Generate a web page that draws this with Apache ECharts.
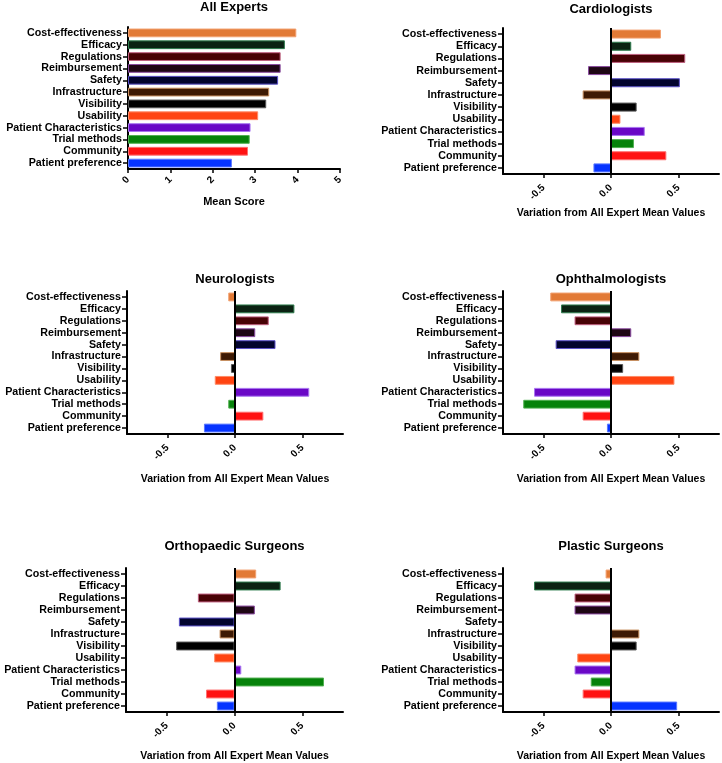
<!DOCTYPE html>
<html><head><meta charset="utf-8">
<script src="https://cdn.jsdelivr.net/npm/echarts@6/dist/echarts.min.js"></script>
<style>html,body{margin:0;padding:0;background:#fff}#c{width:722px;height:763px}</style>
</head><body><div id="c"></div>
<script>
const categories = ['Cost-effectiveness','Efficacy','Regulations','Reimbursement','Safety','Infrastructure','Visibility','Usability','Patient Characteristics','Trial methods','Community','Patient preference'];
const allExperts = [3.97,3.70,3.60,3.60,3.54,3.33,3.26,3.07,2.89,2.87,2.83,2.45];
const cardiologists = [0.37,0.15,0.55,-0.17,0.51,-0.21,0.19,0.07,0.25,0.17,0.41,-0.13];
const neurologists = [-0.05,0.44,0.25,0.15,0.30,-0.11,-0.03,-0.15,0.55,-0.05,0.21,-0.23];
const ophthalmologists = [-0.45,-0.37,-0.27,0.15,-0.41,0.21,0.09,0.47,-0.57,-0.65,-0.21,-0.03];
const orthopaedicSurgeons = [0.16,0.34,-0.27,0.15,-0.41,-0.11,-0.43,-0.15,0.05,0.66,-0.21,-0.13];
const plasticSurgeons = [-0.04,-0.57,-0.27,-0.27,0,0.21,0.19,-0.25,-0.27,-0.15,-0.21,0.49];
const meanScoreTicks = [0,1,2,3,4,5];
const variationTicks = [-0.5,0,0.5];
const panelTitles = ['All Experts','Cardiologists','Neurologists','Ophthalmologists','Orthopaedic Surgeons','Plastic Surgeons'];
const meanAxisName = 'Mean Score';
const variationAxisName = 'Variation from All Expert Mean Values';

const barColors = ['#E27A36','#0B2212','#480205','#1E0614','#02042E','#3E1A04','#000000','#FF4412','#6A08C6','#06820A','#FF1212','#0634FF'];
const barBorders = ['#F2A070','#2E7D4E','#C06080','#8A4AA0','#5A50C8','#C89060','#555555','#FF8A66','#A874F0','#50B050','#FF7070','#5A78FF'];

const FONT = '"Liberation Sans", Arial, Helvetica, sans-serif';
const layouts = [
  {left:128, top:27, width:212, height:142, titleTop:1, gap:27, lm:9},
  {left:503, top:28, width:216, height:146, titleTop:3, gap:34, lm:12},
  {left:127, top:291, width:216, height:143, titleTop:273, gap:40, lm:12},
  {left:503, top:291, width:216, height:143, titleTop:273, gap:40, lm:12},
  {left:126, top:568, width:217, height:144, titleTop:540, gap:39, lm:12},
  {left:503, top:568, width:216, height:144, titleTop:540, gap:39, lm:12}
];
const panelData = [allExperts, cardiologists, neurologists, ophthalmologists, orthopaedicSurgeons, plasticSurgeons];

const grid = [], xAxis = [], yAxis = [], series = [], graphic = [];
layouts.forEach((L, i) => {
  grid.push({left:L.left, top:L.top, width:L.width, height:L.height, containLabel:false});
  const isMean = i === 0;
  const axisLineStyle = {color:'#000', width:2};
  const tickLabelStyle = {color:'#000', fontSize:10, fontWeight:'bold', fontFamily:FONT};
  if (isMean) {
    xAxis.push({type:'value', gridIndex:i, min:meanScoreTicks[0], max:meanScoreTicks[meanScoreTicks.length-1], interval:1,
      splitLine:{show:false}, axisLine:{show:true, lineStyle:axisLineStyle},
      axisTick:{show:true, length:4, lineStyle:{color:'#000', width:1.5}},
      axisLabel:Object.assign({rotate:45, margin:L.lm}, tickLabelStyle),
      name:meanAxisName, nameLocation:'middle', nameGap:L.gap,
      nameTextStyle:{color:'#000', fontSize:11, fontWeight:'bold', fontFamily:FONT}});
  } else {
    xAxis.push({type:'value', gridIndex:i, min:-0.8, max:0.8,
      splitLine:{show:false}, axisLine:{show:true, lineStyle:axisLineStyle},
      axisTick:{show:true, length:4, customValues:variationTicks, lineStyle:{color:'#000', width:1.5}},
      axisLabel:Object.assign({rotate:45, margin:L.lm, customValues:variationTicks, formatter:v => Number(v).toFixed(1)}, tickLabelStyle),
      name:variationAxisName, nameLocation:'middle', nameGap:L.gap,
      nameTextStyle:{color:'#000', fontSize:10.5, fontWeight:'bold', fontFamily:FONT}});
  }
  yAxis.push({type:'category', gridIndex:i, data:categories, inverse:true,
    axisLine:{show:true, onZero:false, lineStyle:axisLineStyle},
    axisTick:{show:true, alignWithLabel:true, length:5, lineStyle:{color:'#000', width:1.5}},
    axisLabel:{margin:6, interval:0, color:'#000', fontSize:10.7, fontWeight:'bold', fontFamily:FONT}});
  const s = {type:'bar', xAxisIndex:i, yAxisIndex:i, barWidth:'74%', silent:true,
    data: panelData[i].map((v, k) => ({value:v, itemStyle:{color:barColors[k], borderColor:barBorders[k], borderWidth:1}}))};
  if (!isMean) {
    s.markLine = {silent:true, symbol:'none', label:{show:false}, animation:false,
      lineStyle:{color:'#000', width:2, type:'solid'}, data:[{xAxis:0}]};
  }
  series.push(s);
  graphic.push({type:'text', x:L.left + L.width/2, y:L.titleTop,
    style:{text:panelTitles[i], align:'center', verticalAlign:'top', fill:'#000', font:'bold 13px ' + FONT}});
});

const chart = echarts.init(document.getElementById('c'), null, {renderer:'canvas'});
chart.setOption({animation:false, backgroundColor:'#fff', grid, xAxis, yAxis, series, graphic});
</script>
</body></html>
